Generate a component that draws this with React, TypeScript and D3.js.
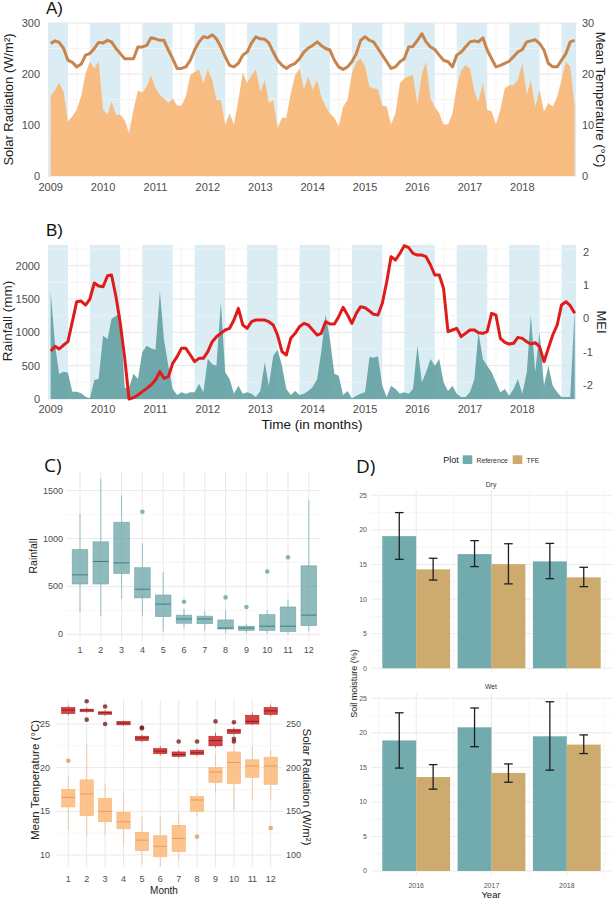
import React from "react";
import * as d3 from "d3";

const FONT = "'Liberation Sans', Arial, Helvetica, sans-serif";
const FONT_TAG = "'Open Sans', 'Liberation Sans', sans-serif";

// ---------------- Panels A & B: monthly series, Jan 2009 – Jan 2019 ----------------
const START_YEAR = 2009;
const yearTicks = [2009, 2010, 2011, 2012, 2013, 2014, 2015, 2016, 2017, 2018];
const wetSeasonStartYears = [2008, 2009, 2010, 2011, 2012, 2013, 2014, 2015, 2016, 2017, 2018];

const solarRadiation = [
  157, 169, 183, 165, 107, 117, 130, 156, 201, 225, 211, 225,
  130, 120, 146, 120, 120, 110, 84, 130, 168, 163, 175, 197,
  172, 159, 152, 143, 152, 138, 138, 156, 198, 204, 209, 182,
  209, 188, 149, 149, 101, 123, 101, 149, 203, 182, 198, 209,
  165, 188, 143, 149, 94, 114, 114, 162, 198, 211, 170, 195,
  169, 188, 156, 136, 123, 114, 97, 136, 149, 201, 224, 230,
  214, 175, 172, 170, 138, 136, 101, 123, 182, 191, 195, 198,
  140, 201, 224, 152, 136, 123, 101, 101, 123, 175, 208, 217,
  211, 165, 146, 183, 130, 127, 101, 130, 172, 178, 178, 188,
  221, 159, 188, 136, 169, 127, 143, 136, 156, 188, 224, 214,
  136,
];

const meanTemperature = [
  26.0, 26.5, 26.2, 25.0, 22.7, 22.3, 21.4, 21.9, 23.7, 24.0, 25.0, 26.2,
  26.1, 26.6, 26.3, 25.0, 24.0, 23.0, 23.0, 23.0, 25.3, 25.3, 25.6, 27.1,
  26.9, 26.6, 26.6, 24.7, 23.0, 21.1, 21.1, 21.4, 22.7, 24.7, 26.3, 27.3,
  27.1, 27.7, 26.9, 25.3, 23.4, 21.7, 21.4, 22.1, 23.7, 24.3, 26.1, 27.3,
  26.9, 26.8, 26.1, 24.3, 22.7, 21.7, 21.1, 21.7, 22.1, 23.0, 24.3, 25.1,
  25.6, 26.3, 25.6, 25.0, 24.7, 22.7, 21.4, 20.9, 21.4, 22.4, 24.0, 26.6,
  27.3, 26.6, 26.3, 25.0, 23.7, 22.4, 21.1, 21.4, 22.4, 23.0, 25.3, 25.4,
  26.6, 27.9, 26.3, 25.3, 24.8, 23.7, 22.7, 22.4, 21.4, 23.7, 24.3, 25.3,
  26.3, 26.5, 26.3, 27.1, 24.7, 23.0, 21.4, 21.7, 22.1, 22.5, 23.4, 24.3,
  24.8, 26.3, 26.5, 26.7, 26.0, 24.7, 22.1, 21.4, 21.4, 22.7, 24.0, 26.3,
  26.6,
];

const rainfall = [
  1600, 800, 375, 410, 395, 110, 110, 85, 35, 10, 285, 300,
  950, 900, 1200, 1250, 1270, 170, 170, 380, 300, 700, 800, 760,
  740, 1620, 900, 500, 150, 60, 100, 80, 100, 100, 230, 100,
  600, 520, 500, 1450, 400, 300, 80, 200, 80, 100, 80, 30,
  120, 550, 200, 650, 740, 500, 150, 60, 120, 60, 80, 120,
  180, 300, 700, 1270, 900, 380, 350, 60, 120, 10, 50, 80,
  100, 630, 620, 640, 200, 30, 200, 150, 80, 100, 80, 150,
  800, 250, 400, 600, 500, 600, 250, 120, 200, 80, 30, 30,
  100, 300, 1000, 600, 500, 400, 250, 100, 150, 50, 150, 300,
  80, 400, 1260, 400, 1010, 200, 500, 200, 100, 30, 30, 30,
  1350,
];

const mei = [
  -0.98, -0.84, -0.92, -0.8, -0.7, -0.1, 0.5, 0.52, 0.4, 0.58, 1.06, 0.97,
  0.95, 1.28, 1.3, 0.65, -0.15, -1.2, -2.42, -2.38, -2.3, -2.2, -2.1, -2.0,
  -1.85, -1.6, -1.8, -1.75, -1.35, -1.15, -0.9, -0.9, -1.1, -1.3, -1.2, -1.2,
  -1.0, -0.7, -0.55, -0.45, -0.35, -0.3, -0.05, 0.3, -0.2, -0.3, -0.1, -0.05,
  -0.05, -0.05, -0.1, -0.2, -0.5, -1.0, -1.1, -0.6, -0.45, -0.25, -0.15, -0.2,
  -0.35, -0.5, -0.45, -0.1, -0.17, -0.17, 0.05, 0.33, 0.1, -0.15, 0.15, 0.35,
  0.32, 0.22, 0.12, 0.1, 0.45, 1.1, 1.85, 1.75, 1.95, 2.18, 2.12, 1.95,
  1.9, 1.9, 1.85, 1.6, 1.3, 1.3, 0.9, -0.4, -0.35, -0.3, -0.55, -0.45,
  -0.35, -0.35, -0.43, -0.45, -0.4, 0.15, 0.1, -0.6, -0.72, -0.77, -0.75, -0.57,
  -0.6, -0.7, -0.77, -0.73, -0.85, -1.3, -0.9, -0.5, -0.2, 0.4, 0.5, 0.38,
  0.15,
];

const solarTicks = [0, 100, 200, 300];
const tempTicks = [0, 10, 20, 30];
const rainTicks = [0, 500, 1000, 1500, 2000];
const meiTicks = [-2, -1, 0, 1, 2];

// ---------------- Panel C: monthly boxplots ----------------
const monthLabels = [1, 2, 3, 4, 5, 6, 7, 8, 9, 10, 11, 12];
const rainLow = [230, 190, 370, 190, 30, 60, 40, 10, 10, 10, 5, 30];
const rainQ1 = [525, 525, 635, 380, 185, 115, 110, 55, 40, 40, 30, 90];
const rainMedian = [620, 760, 745, 470, 315, 160, 160, 65, 65, 85, 85, 200];
const rainQ3 = [885, 965, 1170, 695, 410, 200, 190, 150, 85, 205, 285, 715];
const rainHigh = [1260, 1620, 1450, 950, 650, 270, 240, 250, 110, 250, 360, 1400];
const rainOutliers: [number, number][] = [[4, 1280], [6, 340], [8, 385], [9, 285], [10, 655], [11, 805]];
const rainBoxTicks = [0, 500, 1000, 1500];

const tempLow = [26.0, 26.3, 25.9, 24.8, 22.9, 21.4, 21.1, 21.3, 22.3, 23.7, 24.9, 25.9];
const tempQ1 = [26.2, 26.4, 26.1, 24.9, 23.1, 21.6, 21.3, 21.5, 22.5, 23.9, 25.0, 26.1];
const tempMedian = [26.6, 26.6, 26.3, 25.1, 23.4, 21.9, 21.5, 21.7, 23.1, 24.2, 25.3, 26.5];
const tempQ3 = [26.9, 26.7, 26.4, 25.3, 23.6, 22.2, 21.8, 22.0, 23.6, 24.4, 26.0, 26.9];
const tempHigh = [27.1, 26.9, 26.6, 25.4, 23.8, 22.5, 22.0, 22.2, 24.0, 24.6, 26.3, 27.2];
const tempOutliers: [number, number][] = [
  [2, 27.6], [2, 25.5], [3, 27.0], [3, 25.0], [5, 24.6], [5, 24.5], [7, 23.0], [8, 23.0],
  [9, 25.3], [10, 25.2], [10, 23.3], [10, 23.0],
];

const solarLow = [129, 121, 123, 110, 90, 87, 94, 144, 171, 151, 163, 163];
const solarQ1 = [155, 145, 138, 130, 105, 98, 104, 150, 183, 182, 189, 181];
const solarMedian = [166, 170, 150, 138, 117, 110, 119, 163, 195, 206, 202, 202];
const solarQ3 = [175, 186, 165, 149, 126, 122, 134, 167, 200, 218, 209, 212];
const solarHigh = [190, 228, 182, 171, 144, 144, 148, 171, 216, 228, 224, 220];
const solarOutliers: [number, number][] = [[1, 208], [8, 121], [12, 131]];
const tempBoxTicks = [10, 15, 20, 25];
const solarBoxTicks = [100, 150, 200, 250];

// ---------------- Panel D: soil moisture ----------------
const years = ["2016", "2017", "2018"];
const plotGroups = ["Reference", "TFE"];
const dryReference = [19.1, 16.5, 15.45];
const dryReferenceLow = [15.75, 14.7, 12.95];
const dryReferenceHigh = [22.5, 18.45, 18.05];
const dryTFE = [14.3, 15.05, 13.15];
const dryTFELow = [12.75, 12.2, 11.8];
const dryTFEHigh = [15.9, 18.0, 14.6];
const wetReference = [18.9, 20.8, 19.5];
const wetReferenceLow = [14.9, 18.0, 14.6];
const wetReferenceHigh = [22.9, 23.6, 24.5];
const wetTFE = [13.6, 14.2, 18.3];
const wetTFELow = [11.85, 12.85, 17.0];
const wetTFEHigh = [15.4, 15.5, 19.7];
const moistureTicks = [0, 5, 10, 15, 20, 25];

// ---------------- colours ----------------
const C_BAND = "#add8e6";
const C_ORANGE = "#f9b97b";
const C_TEMP_LINE = "#c8844a";
const C_TEAL = "#5f9ea0";
const C_RED = "#e01b1b";
const C_GRID = "#e6e6e6";
const C_GRID_MINOR = "#f2f2f2";
const C_TICK = "#4d4d4d";
const C_REF = "#72abad";
const C_TFE = "#cdaa6e";

// ---------------- shared time axis ----------------
const dates = solarRadiation.map((_, i) => new Date(START_YEAR, i, 1));
const xTime = d3
  .scaleTime()
  .domain([new Date(START_YEAR, 0, 1), new Date(START_YEAR + 10, 0, 1)])
  .range([50.7, 574.7]);
const TL = 48;
const TR = 577;

function Bands({ top, bottom }: { top: number; bottom: number }) {
  return (
    <g>
      {wetSeasonStartYears.map((y) => {
        const x0 = Math.max(xTime(new Date(y, 9, 1)), TL);
        const x1 = Math.min(xTime(new Date(y + 1, 4, 1)), 576);
        if (x1 <= x0) return null;
        return <rect key={y} x={x0} y={top} width={x1 - x0} height={bottom - top} fill={C_BAND} fillOpacity={0.45} />;
      })}
    </g>
  );
}

function TimeGrid({ top, bottom }: { top: number; bottom: number }) {
  return (
    <g>
      {yearTicks.map((y) => (
        <line key={"m" + y} x1={xTime(new Date(y, 6, 1))} x2={xTime(new Date(y, 6, 1))} y1={top} y2={bottom} stroke={C_GRID_MINOR} strokeWidth={0.8} />
      ))}
      {yearTicks.map((y) => (
        <line key={"M" + y} x1={xTime(new Date(y, 0, 1))} x2={xTime(new Date(y, 0, 1))} y1={top} y2={bottom} stroke={C_GRID} strokeWidth={1} />
      ))}
    </g>
  );
}

function YearLabels({ y }: { y: number }) {
  return (
    <g fontSize={11} fill={C_TICK} textAnchor="middle">
      {yearTicks.map((yr) => (
        <text key={yr} x={xTime(new Date(yr, 0, 1))} y={y}>
          {yr}
        </text>
      ))}
    </g>
  );
}

function PanelA() {
  const top = 23;
  const bottom = 176;
  const y = d3.scaleLinear().domain([0, 300]).range([bottom, top]);
  const yT = d3.scaleLinear().domain([0, 30]).range([bottom, top]);
  const area = d3
    .area<number>()
    .x((_, i) => xTime(dates[i]))
    .y0(y(0))
    .y1((d) => y(d))
    .curve(d3.curveLinear);
  const line = d3
    .line<number>()
    .x((_, i) => xTime(dates[i]))
    .y((d) => yT(d));
  return (
    <g>
      <text x={46} y={13.5} fontSize={17} fill="#111">A)</text>
      <Bands top={top} bottom={bottom} />
      <TimeGrid top={top} bottom={bottom} />
      {[50, 150, 250].map((v) => (
        <line key={v} x1={TL} x2={TR} y1={y(v)} y2={y(v)} stroke={C_GRID_MINOR} strokeWidth={0.8} />
      ))}
      {solarTicks.map((v) => (
        <line key={v} x1={TL} x2={TR} y1={y(v)} y2={y(v)} stroke={C_GRID} strokeWidth={1} />
      ))}
      <path d={area(solarRadiation) || ""} fill={C_ORANGE} fillOpacity={0.95} />
      <path d={line(meanTemperature) || ""} fill="none" stroke={C_TEMP_LINE} strokeWidth={3} strokeLinejoin="round" />
      <g fontSize={11} fill={C_TICK} textAnchor="end">
        {solarTicks.map((v) => (
          <text key={v} x={40} y={y(v) + 4}>{v}</text>
        ))}
      </g>
      <g fontSize={11} fill={C_TICK} textAnchor="start">
        {tempTicks.map((v) => (
          <text key={v} x={582} y={yT(v) + 4}>{v}</text>
        ))}
      </g>
      <YearLabels y={190.5} />
      <text transform={`translate(13,${(top + bottom) / 2}) rotate(-90)`} textAnchor="middle" fontSize={13} fill="#222">
        Solar Radiation (W/m²)
      </text>
      <text transform={`translate(596,${(top + bottom) / 2}) rotate(90)`} textAnchor="middle" fontSize={13} fill="#222">
        Mean Temperature (°C)
      </text>
    </g>
  );
}

function PanelB() {
  const top = 245;
  const bottom = 399;
  const y = d3.scaleLinear().domain([0, 2000]).range([bottom, 265.7]);
  const yM = d3.scaleLinear().domain([-2, 2]).range([385, 251.7]);
  const area = d3
    .area<number>()
    .x((_, i) => xTime(dates[i]))
    .y0(y(0))
    .y1((d) => y(d));
  const line = d3
    .line<number>()
    .x((_, i) => xTime(dates[i]))
    .y((d) => yM(d));
  return (
    <g>
      <text x={46} y={235.5} fontSize={17} fill="#111">B)</text>
      <Bands top={top} bottom={bottom} />
      <TimeGrid top={top} bottom={bottom} />
      {[250, 750, 1250, 1750, 2250].map((v) => (
        <line key={v} x1={TL} x2={TR} y1={y(v)} y2={y(v)} stroke={C_GRID_MINOR} strokeWidth={0.8} />
      ))}
      {rainTicks.map((v) => (
        <line key={v} x1={TL} x2={TR} y1={y(v)} y2={y(v)} stroke={C_GRID} strokeWidth={1} />
      ))}
      <path d={area(rainfall) || ""} fill={C_TEAL} fillOpacity={0.88} />
      <path d={line(mei) || ""} fill="none" stroke={C_RED} strokeWidth={3} strokeLinejoin="round" />
      <g fontSize={11} fill={C_TICK} textAnchor="end">
        {rainTicks.map((v) => (
          <text key={v} x={40} y={y(v) + 4}>{v}</text>
        ))}
      </g>
      <g fontSize={11} fill={C_TICK} textAnchor="start">
        {meiTicks.map((v) => (
          <text key={v} x={583} y={yM(v) + 4}>{v}</text>
        ))}
      </g>
      <YearLabels y={413} />
      <text x={312} y={428.5} textAnchor="middle" fontSize={13.5} fill="#111">Time (in months)</text>
      <text transform={`translate(12,321) rotate(-90)`} textAnchor="middle" fontSize={13.5} fill="#222">
        Rainfall (mm)
      </text>
      <text transform={`translate(597,322) rotate(90)`} textAnchor="middle" fontSize={13} fill="#222">
        MEI
      </text>
    </g>
  );
}

type BoxProps = {
  x: number;
  hw: number;
  yLow: number;
  yQ1: number;
  yMed: number;
  yQ3: number;
  yHigh: number;
  fill: string;
  fillOpacity: number;
  stroke: string;
  medStroke: string;
  whisker: string;
};
function Box(p: BoxProps) {
  return (
    <g>
      <line x1={p.x} x2={p.x} y1={p.yHigh} y2={p.yQ3} stroke={p.whisker} strokeWidth={0.9} />
      <line x1={p.x} x2={p.x} y1={p.yQ1} y2={p.yLow} stroke={p.whisker} strokeWidth={0.9} />
      <rect x={p.x - p.hw} y={p.yQ3} width={p.hw * 2} height={Math.max(p.yQ1 - p.yQ3, 1)} fill={p.fill} fillOpacity={p.fillOpacity} stroke={p.stroke} strokeWidth={0.6} />
      <line x1={p.x - p.hw} x2={p.x + p.hw} y1={p.yMed} y2={p.yMed} stroke={p.medStroke} strokeWidth={1} />
    </g>
  );
}

function PanelC() {
  // top: rainfall
  const xR = d3.scaleLinear().domain([1, 12]).range([80, 308.8]);
  const yR = d3.scaleLinear().domain([0, 1500]).range([634.3, 490.6]);
  const rTop = 472;
  const rBottom = 641;
  const rLeft = 66;
  const rRight = 320;
  const hwR = 0.375 * (xR(2) - xR(1));

  // bottom: temperature + solar
  const xT = d3.scaleLinear().domain([1, 12]).range([68.3, 270.7]);
  const yT = d3.scaleLinear().domain([10, 25]).range([855, 724]);
  const yS = d3.scaleLinear().domain([100, 250]).range([855, 724]);
  const tTop = 700;
  const tBottom = 867;
  const tLeft = 57;
  const tRight = 282;
  const hwT = 0.36 * (xT(2) - xT(1));

  return (
    <g>
      <text x={44} y={471.5} fontSize={19} fill="#111" fontFamily={FONT_TAG}>C)</text>
      {/* rainfall grid */}
      {[250, 750, 1250].map((v) => (
        <line key={v} x1={rLeft} x2={rRight} y1={yR(v)} y2={yR(v)} stroke={C_GRID_MINOR} strokeWidth={0.7} />
      ))}
      {rainBoxTicks.map((v) => (
        <line key={v} x1={rLeft} x2={rRight} y1={yR(v)} y2={yR(v)} stroke={C_GRID} strokeWidth={0.9} />
      ))}
      {monthLabels.map((m) => (
        <line key={m} x1={xR(m)} x2={xR(m)} y1={rTop} y2={rBottom} stroke={C_GRID} strokeWidth={0.9} />
      ))}
      {monthLabels.map((m, i) => (
        <Box
          key={m}
          x={xR(m)}
          hw={hwR}
          yLow={yR(rainLow[i])}
          yQ1={yR(rainQ1[i])}
          yMed={yR(rainMedian[i])}
          yQ3={yR(rainQ3[i])}
          yHigh={yR(rainHigh[i])}
          fill={C_TEAL}
          fillOpacity={0.7}
          stroke="#6fa9ab"
          medStroke="#3f7f81"
          whisker="#8dbcbd"
        />
      ))}
      {rainOutliers.map(([m, v], i) => (
        <circle key={i} cx={xR(m)} cy={yR(v)} r={2.3} fill={C_TEAL} fillOpacity={0.75} />
      ))}
      <g fontSize={9} fill={C_TICK} textAnchor="end">
        {rainBoxTicks.map((v) => (
          <text key={v} x={63} y={yR(v) + 3}>{v}</text>
        ))}
      </g>
      <g fontSize={9} fill={C_TICK} textAnchor="middle">
        {monthLabels.map((m) => (
          <text key={m} x={xR(m)} y={653.3}>{m}</text>
        ))}
      </g>
      <text transform={`translate(37,556) rotate(-90)`} textAnchor="middle" fontSize={10.5} fill="#222">Rainfall</text>

      {/* temperature / solar grid */}
      {[12.5, 17.5, 22.5].map((v) => (
        <line key={v} x1={tLeft} x2={tRight} y1={yT(v)} y2={yT(v)} stroke={C_GRID_MINOR} strokeWidth={0.7} />
      ))}
      {tempBoxTicks.map((v) => (
        <line key={v} x1={tLeft} x2={tRight} y1={yT(v)} y2={yT(v)} stroke={C_GRID} strokeWidth={0.9} />
      ))}
      {monthLabels.map((m) => (
        <line key={m} x1={xT(m)} x2={xT(m)} y1={tTop} y2={tBottom} stroke={C_GRID} strokeWidth={0.9} />
      ))}
      {monthLabels.map((m, i) => (
        <Box
          key={"s" + m}
          x={xT(m)}
          hw={hwT}
          yLow={yS(solarLow[i])}
          yQ1={yS(solarQ1[i])}
          yMed={yS(solarMedian[i])}
          yQ3={yS(solarQ3[i])}
          yHigh={yS(solarHigh[i])}
          fill="#fdb979"
          fillOpacity={0.85}
          stroke="#f7b576"
          medStroke="#e39a5c"
          whisker="#ecc7a4"
        />
      ))}
      {solarOutliers.map(([m, v], i) => (
        <circle key={i} cx={xT(m)} cy={yS(v)} r={2.3} fill="#d9a26e" fillOpacity={0.85} />
      ))}
      {monthLabels.map((m, i) => (
        <Box
          key={"t" + m}
          x={xT(m)}
          hw={hwT}
          yLow={yT(tempLow[i])}
          yQ1={yT(tempQ1[i])}
          yMed={yT(tempMedian[i])}
          yQ3={yT(tempQ3[i])}
          yHigh={yT(tempHigh[i])}
          fill="#d33a3a"
          fillOpacity={0.95}
          stroke="#b52a2a"
          medStroke="#8e1c1c"
          whisker="#c26060"
        />
      ))}
      {tempOutliers.map(([m, v], i) => (
        <circle key={i} cx={xT(m)} cy={yT(v)} r={2.3} fill="#7a1d1d" fillOpacity={0.8} />
      ))}
      <g fontSize={9} fill={C_TICK} textAnchor="end">
        {tempBoxTicks.map((v) => (
          <text key={v} x={50} y={yT(v) + 3}>{v}</text>
        ))}
      </g>
      <g fontSize={9} fill={C_TICK} textAnchor="start">
        {solarBoxTicks.map((v) => (
          <text key={v} x={286} y={yS(v) + 3}>{v}</text>
        ))}
      </g>
      <g fontSize={9} fill={C_TICK} textAnchor="middle">
        {monthLabels.map((m) => (
          <text key={m} x={xT(m)} y={881.7}>{m}</text>
        ))}
      </g>
      <text x={164} y={893.5} textAnchor="middle" fontSize={10} fill="#222">Month</text>
      <text transform={`translate(38.5,780) rotate(-90)`} textAnchor="middle" fontSize={11.5} fill="#222">
        Mean Temperature (°C)
      </text>
      <text transform={`translate(303,787) rotate(90)`} textAnchor="middle" fontSize={11.5} fill="#222">
        Solar Radiation (W/m²)
      </text>
    </g>
  );
}

function Facet({
  y,
  top,
  bottom,
  label,
  labelY,
  ref,
  refLow,
  refHigh,
  tfe,
  tfeLow,
  tfeHigh,
  x,
}: any) {
  const step = x.step();
  const barW = 0.45 * step;
  const left = 371;
  const right = 612;
  const minorY = [2.5, 7.5, 12.5, 17.5, 22.5];
  const vMinor = [x(years[0])! - step / 2, x(years[1])! - step / 2, x(years[2])! - step / 2, x(years[2])! + step / 2];
  const groups = [
    { vals: ref, lo: refLow, hi: refHigh, color: C_REF, off: -barW / 2 },
    { vals: tfe, lo: tfeLow, hi: tfeHigh, color: C_TFE, off: barW / 2 },
  ];
  return (
    <g>
      <text x={491} y={labelY} textAnchor="middle" fontSize={6.8} fill="#333">{label}</text>
      {minorY.map((v) => (
        <line key={v} x1={left} x2={right} y1={y(v)} y2={y(v)} stroke={C_GRID_MINOR} strokeWidth={0.7} />
      ))}
      {moistureTicks.map((v) => (
        <line key={v} x1={left} x2={right} y1={y(v)} y2={y(v)} stroke={C_GRID} strokeWidth={0.8} />
      ))}
      {vMinor.map((v, i) => (
        <line key={i} x1={v} x2={v} y1={top} y2={bottom} stroke={C_GRID_MINOR} strokeWidth={0.7} />
      ))}
      {years.map((yr) => (
        <line key={yr} x1={x(yr)} x2={x(yr)} y1={top} y2={bottom} stroke={C_GRID} strokeWidth={0.8} />
      ))}
      {groups.map((g, gi) =>
        years.map((yr, i) => {
          const cx = x(yr)! + g.off;
          return (
            <g key={gi + yr}>
              <rect x={cx - barW / 2} y={y(g.vals[i])} width={barW} height={y(0) - y(g.vals[i])} fill={g.color} />
            </g>
          );
        })
      )}
      {groups.map((g, gi) =>
        years.map((yr, i) => {
          const cx = x(yr)! + g.off;
          return (
            <g key={"e" + gi + yr} stroke="#1f1f1f" strokeWidth={1.3}>
              <line x1={cx} x2={cx} y1={y(g.lo[i])} y2={y(g.hi[i])} />
              <line x1={cx - 4.3} x2={cx + 4.3} y1={y(g.lo[i])} y2={y(g.lo[i])} />
              <line x1={cx - 4.3} x2={cx + 4.3} y1={y(g.hi[i])} y2={y(g.hi[i])} />
            </g>
          );
        })
      )}
      <g fontSize={7} fill="#555" textAnchor="end">
        {moistureTicks.map((v) => (
          <text key={v} x={367} y={y(v) + 2.4}>{v}</text>
        ))}
      </g>
    </g>
  );
}

function PanelD() {
  const x = d3.scalePoint<string>().domain(years).range([416.2, 566.8]);
  const yDry = d3.scaleLinear().domain([0, 25]).range([668.3, 495.3]);
  const yWet = d3.scaleLinear().domain([0, 25]).range([871, 698.3]);
  return (
    <g>
      <text x={356} y={473} fontSize={19} fill="#111" fontFamily={FONT_TAG}>D)</text>
      <text x={443.3} y={463} fontSize={9} fill="#222">Plot</text>
      <rect x={462.7} y={455.3} width={9.6} height={8.7} fill={C_REF} />
      <text x={476.5} y={462.5} fontSize={6.8} fill="#333">{plotGroups[0]}</text>
      <rect x={512.7} y={455.3} width={9.6} height={8.7} fill={C_TFE} />
      <text x={526.5} y={462.5} fontSize={6.8} fill="#333">{plotGroups[1]}</text>
      <Facet
        x={x}
        y={yDry}
        top={490}
        bottom={673}
        label="Dry"
        labelY={486.5}
        ref={dryReference}
        refLow={dryReferenceLow}
        refHigh={dryReferenceHigh}
        tfe={dryTFE}
        tfeLow={dryTFELow}
        tfeHigh={dryTFEHigh}
      />
      <Facet
        x={x}
        y={yWet}
        top={693}
        bottom={876}
        label="Wet"
        labelY={689.3}
        ref={wetReference}
        refLow={wetReferenceLow}
        refHigh={wetReferenceHigh}
        tfe={wetTFE}
        tfeLow={wetTFELow}
        tfeHigh={wetTFEHigh}
      />
      <g fontSize={7} fill="#555" textAnchor="middle">
        {years.map((yr) => (
          <text key={yr} x={x(yr)} y={888.3}>{yr}</text>
        ))}
      </g>
      <text x={491} y={898} textAnchor="middle" fontSize={9.5} fill="#111">Year</text>
      <text transform={`translate(356.5,683.5) rotate(-90)`} textAnchor="middle" fontSize={9} fill="#222">
        Soil moisture (%)
      </text>
    </g>
  );
}

export default function App() {
  return (
    <svg
      width={614}
      height={899}
      viewBox="0 0 614 899"
      style={{ position: "absolute", left: 0, top: 0, background: "#fff" }}
      fontFamily={FONT}
    >
      <rect width={614} height={899} fill="#fff" />
      <PanelA />
      <PanelB />
      <PanelC />
      <PanelD />
    </svg>
  );
}
